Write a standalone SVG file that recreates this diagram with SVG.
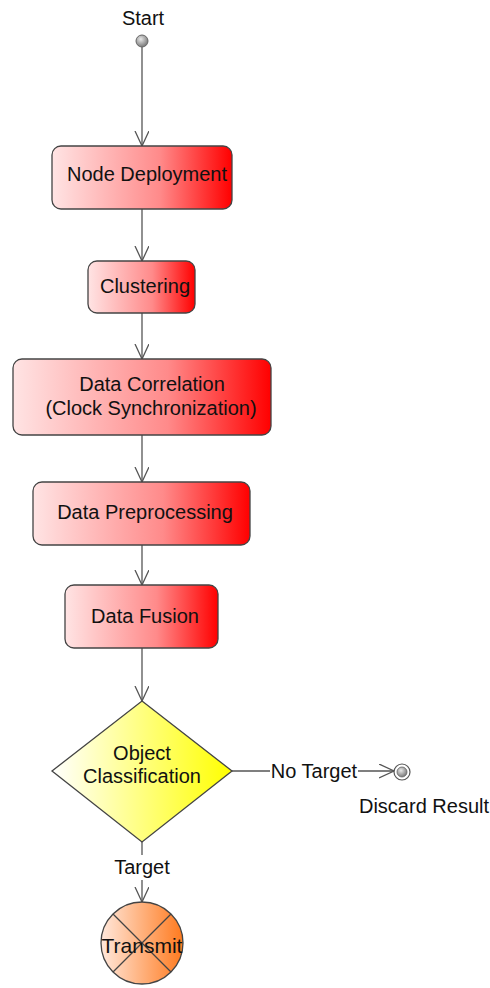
<svg xmlns="http://www.w3.org/2000/svg" width="490" height="988" viewBox="0 0 490 988">
  <style>
    .lbl { font-family: "Liberation Sans", Arial, sans-serif; font-size: 20px; fill: #111; text-anchor: middle; }
    .act { stroke: #444; stroke-width: 1.3; }
    .edge { stroke: #555; stroke-width: 1.3; fill: none; }
  </style>
  <defs>
    <linearGradient id="redFill" x1="0" y1="0" x2="1" y2="0">
      <stop offset="0" stop-color="#ffe4e4"/>
      <stop offset="0.6" stop-color="#ff8a8a"/>
      <stop offset="1" stop-color="#ff0000"/>
    </linearGradient>
    <linearGradient id="yellowFill" x1="0" y1="0" x2="1" y2="0">
      <stop offset="0" stop-color="#ffffff"/>
      <stop offset="1" stop-color="#ffff00"/>
    </linearGradient>
    <linearGradient id="orangeFill" x1="0" y1="0" x2="1" y2="0">
      <stop offset="0" stop-color="#ffe8dc"/>
      <stop offset="1" stop-color="#ff7a1e"/>
    </linearGradient>
    <radialGradient id="greyBall" cx="0.4" cy="0.35" r="0.7">
      <stop offset="0" stop-color="#e8e8e8"/>
      <stop offset="1" stop-color="#707070"/>
    </radialGradient>
    <marker id="open" markerWidth="17" markerHeight="15" refX="15" refY="7" orient="auto" markerUnits="userSpaceOnUse">
      <path d="M0,0 L15,7 L0,14" fill="none" stroke="#555" stroke-width="1.3"/>
    </marker>
  </defs>

  <g id="connectors">
    <line class="edge" x1="142" y1="47" x2="142" y2="146" marker-end="url(#open)"/>
    <line class="edge" x1="142" y1="209" x2="142" y2="261" marker-end="url(#open)"/>
    <line class="edge" x1="142" y1="313" x2="142" y2="359" marker-end="url(#open)"/>
    <line class="edge" x1="142" y1="435" x2="142" y2="482" marker-end="url(#open)"/>
    <line class="edge" x1="142" y1="545" x2="142" y2="585" marker-end="url(#open)"/>
    <line class="edge" x1="142" y1="648" x2="142" y2="701" marker-end="url(#open)"/>
    <line class="edge" x1="232" y1="771" x2="270" y2="771"/>
    <text class="lbl" x="314" y="778">No Target</text>
    <line class="edge" x1="358" y1="771" x2="394" y2="771" marker-end="url(#open)"/>
    <line class="edge" x1="142" y1="842" x2="142" y2="855"/>
    <text class="lbl" x="142" y="874">Target</text>
    <line class="edge" x1="142" y1="880" x2="142" y2="902" marker-end="url(#open)"/>
  </g>

  <g id="start">
    <text class="lbl" x="143" y="25">Start</text>
    <circle cx="142" cy="41" r="6" fill="url(#greyBall)" stroke="#666" stroke-width="1"/>
  </g>

  <g id="node-deployment">
    <rect class="act" x="52" y="146" width="180" height="63" rx="9" fill="url(#redFill)"/>
    <text class="lbl" x="147" y="181">Node Deployment</text>
  </g>

  <g id="clustering">
    <rect class="act" x="88" y="261" width="107" height="52" rx="9" fill="url(#redFill)"/>
    <text class="lbl" x="145" y="293">Clustering</text>
  </g>

  <g id="data-correlation">
    <rect class="act" x="13" y="359" width="258" height="76" rx="9" fill="url(#redFill)"/>
    <text class="lbl" x="152" y="391">Data Correlation</text>
    <text class="lbl" x="151" y="415">(Clock Synchronization)</text>
  </g>

  <g id="data-preprocessing">
    <rect class="act" x="33" y="482" width="217" height="63" rx="9" fill="url(#redFill)"/>
    <text class="lbl" x="145" y="519">Data Preprocessing</text>
  </g>

  <g id="data-fusion">
    <rect class="act" x="65" y="585" width="153" height="63" rx="9" fill="url(#redFill)"/>
    <text class="lbl" x="145" y="623">Data Fusion</text>
  </g>

  <g id="object-classification">
    <polygon class="act" points="142,701 232,771 142,842 52,771" fill="url(#yellowFill)"/>
    <text class="lbl" x="142" y="760">Object</text>
    <text class="lbl" x="142" y="783">Classification</text>
  </g>

  <g id="discard-result">
    <circle cx="402" cy="772" r="8" fill="#fff" stroke="#555" stroke-width="1.2"/>
    <circle cx="402" cy="772" r="5" fill="url(#greyBall)" stroke="#666" stroke-width="0.8"/>
    <text class="lbl" x="424" y="813">Discard Result</text>
  </g>

  <g id="transmit">
    <circle class="act" cx="142" cy="943" r="41" fill="url(#orangeFill)"/>
    <line class="act" x1="113" y1="914" x2="171" y2="972"/>
    <line class="act" x1="171" y1="914" x2="113" y2="972"/>
    <text class="lbl" x="142" y="953" style="font-size:21px">Transmit</text>
  </g>
</svg>
